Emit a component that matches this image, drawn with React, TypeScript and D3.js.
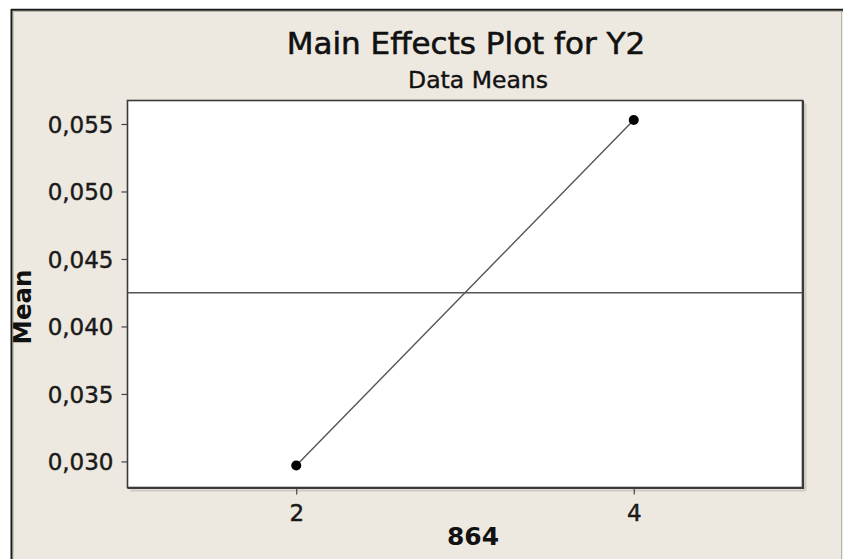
import React, { useEffect, useRef } from "react";
import * as d3 from "d3";

const title = "Main Effects Plot for Y2";
const subtitle = "Data Means";
const xLabel = "864";
const yLabel = "Mean";
const levels = [2, 4];
const means = [0.0297, 0.0553];
const xTicks = [2, 4];
const yTicks = [0.03, 0.035, 0.04, 0.045, 0.05, 0.055];
const xDomain = [1, 5];
const yDomain = [0.02807, 0.05674];

const W = 843;
const H = 559;
const FONT = "'DejaVu Sans', Verdana, sans-serif";

export default function App() {
  const ref = useRef<SVGSVGElement>(null);

  useEffect(() => {
    document.body.style.margin = "0";
    const svg = d3.select(ref.current);
    svg.selectAll("*").remove();

    const left = 127.5, right = 802.5, top = 100.5, bottom = 487.5;
    const x = d3.scaleLinear().domain(xDomain).range([left, right]);
    const y = d3.scaleLinear().domain(yDomain).range([bottom, top]);

    // page background
    svg.append("rect").attr("width", W).attr("height", H).attr("fill", "#ffffff");
    // frame
    svg.append("rect").attr("x", 11).attr("y", 9).attr("width", W).attr("height", H)
      .attr("fill", "#EDE9E0");
    svg.append("line").attr("x1", 13).attr("x2", W).attr("y1", 11.5).attr("y2", 11.5)
      .attr("stroke", "#b8b5ad").attr("stroke-width", 1);
    svg.append("line").attr("x1", 13.5).attr("x2", 13.5).attr("y1", 11).attr("y2", H)
      .attr("stroke", "#c8c5bd").attr("stroke-width", 1);
    svg.append("line").attr("x1", 841.5).attr("x2", 841.5).attr("y1", 11).attr("y2", H)
      .attr("stroke", "#b8b5ad").attr("stroke-width", 1);
    svg.append("line").attr("x1", 11.5).attr("x2", 11.5).attr("y1", 9).attr("y2", H)
      .attr("stroke", "#1a1a1a").attr("stroke-width", 2);
    svg.append("line").attr("x1", 11).attr("x2", W).attr("y1", 9.8).attr("y2", 9.8)
      .attr("stroke", "#1a1a1a").attr("stroke-width", 2);

    // plot area shadow
    svg.append("line").attr("x1", right + 3).attr("x2", right + 3).attr("y1", top + 3).attr("y2", bottom + 3)
      .attr("stroke", "#cfcbc2").attr("stroke-width", 2);
    svg.append("line").attr("x1", left + 3).attr("x2", right + 3).attr("y1", bottom + 3).attr("y2", bottom + 3)
      .attr("stroke", "#cfcbc2").attr("stroke-width", 2);
    // plot area
    svg.append("rect").attr("x", left).attr("y", top).attr("width", right - left).attr("height", bottom - top)
      .attr("fill", "#ffffff").attr("stroke", "#3a3a3a").attr("stroke-width", 1.6);
    svg.append("line").attr("x1", right + 0.8).attr("x2", right + 0.8).attr("y1", top).attr("y2", bottom + 1)
      .attr("stroke", "#3a3a3a").attr("stroke-width", 1.6);
    svg.append("line").attr("x1", left).attr("x2", right + 1.6).attr("y1", bottom + 0.8).attr("y2", bottom + 0.8)
      .attr("stroke", "#3a3a3a").attr("stroke-width", 1.6);

    const fmt = (v: number) => d3.format(".3f")(v).replace(".", ",");

    // y axis
    const gy = svg.append("g").attr("transform", `translate(${left},0)`)
      .call(d3.axisLeft(y).tickValues(yTicks).tickSize(6).tickPadding(8).tickFormat(fmt as any));
    gy.select(".domain").remove();
    gy.selectAll(".tick line").attr("stroke", "#444").attr("stroke-width", 1.2);
    gy.selectAll(".tick text").attr("font-family", FONT).attr("font-size", 23)
      .attr("fill", "#1a1a1a").attr("stroke", "#1a1a1a").attr("stroke-width", 0.45).attr("dy", "0.36em");

    // x axis
    const gx = svg.append("g").attr("transform", `translate(0,${bottom + 1})`)
      .call(d3.axisBottom(x).tickValues(xTicks).tickSize(6).tickPadding(10).tickFormat(d3.format("d") as any));
    gx.select(".domain").remove();
    gx.selectAll(".tick line").attr("stroke", "#444").attr("stroke-width", 1.2);
    gx.selectAll(".tick text").attr("font-family", FONT).attr("font-size", 23)
      .attr("fill", "#1a1a1a").attr("stroke", "#1a1a1a").attr("stroke-width", 0.45);

    // reference mean line
    const grand = d3.mean(means) as number;
    svg.append("line").attr("x1", left).attr("x2", right).attr("y1", y(grand)).attr("y2", y(grand))
      .attr("stroke", "#555").attr("stroke-width", 1.4);

    // effect line
    const data = levels.map((l, i) => ({ l, m: means[i] }));
    const line = d3.line<{ l: number; m: number }>().x(d => x(d.l)).y(d => y(d.m));
    svg.append("path").datum(data).attr("d", line).attr("fill", "none")
      .attr("stroke", "#555").attr("stroke-width", 1.4);
    svg.selectAll("circle.pt").data(data).enter().append("circle")
      .attr("cx", d => x(d.l)).attr("cy", d => y(d.m)).attr("r", 5).attr("fill", "#000");

    // titles
    svg.append("text").attr("x", 466).attr("y", 54).attr("text-anchor", "middle")
      .attr("font-family", FONT).attr("font-size", 31).attr("fill", "#111")
      .attr("stroke", "#111").attr("stroke-width", 0.6).text(title);
    svg.append("text").attr("x", 478).attr("y", 87.5).attr("text-anchor", "middle")
      .attr("font-family", FONT).attr("font-size", 23.5).attr("fill", "#111")
      .attr("stroke", "#111").attr("stroke-width", 0.4).text(subtitle);
    svg.append("text").attr("x", 473).attr("y", 545).attr("text-anchor", "middle")
      .attr("font-family", FONT).attr("font-size", 25).attr("font-weight", "bold").attr("fill", "#111").text(xLabel);
    svg.append("text").attr("transform", "translate(31,307) rotate(-90)").attr("text-anchor", "middle")
      .attr("font-family", FONT).attr("font-size", 24.5).attr("font-weight", "bold").attr("fill", "#111").text(yLabel);
  }, []);

  return <svg ref={ref} width={W} height={H} style={{ display: "block", position: "absolute", left: 0, top: 0 }} />;
}
